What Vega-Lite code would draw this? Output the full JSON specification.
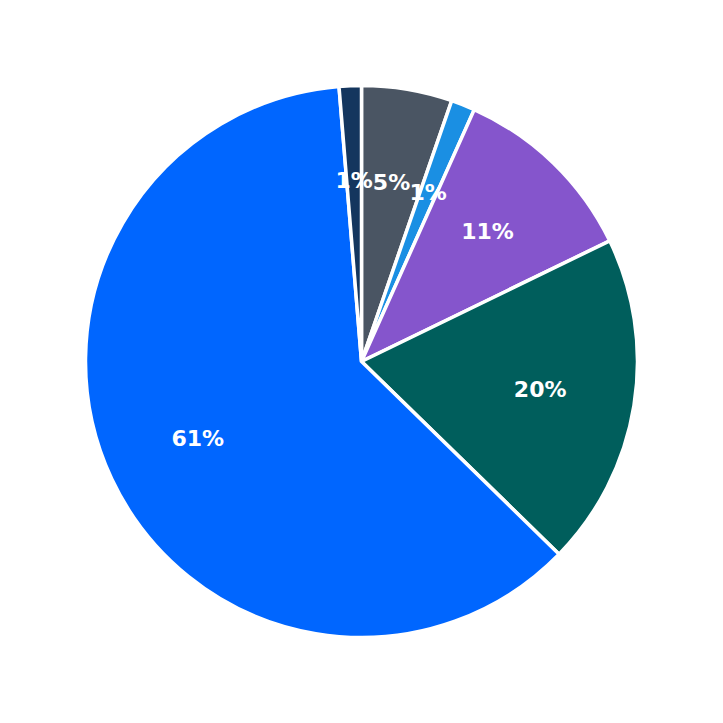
{
  "$schema": "https://vega.github.io/schema/vega-lite/v6.json",
  "width": 723,
  "height": 723,
  "autosize": {"type": "fit", "contains": "padding"},
  "padding": 0,
  "background": "white",
  "data": {
    "values": [
      {"idx": 1, "cat": "A", "share": 0.053},
      {"idx": 2, "cat": "B", "share": 0.014},
      {"idx": 3, "cat": "C", "share": 0.111},
      {"idx": 4, "cat": "D", "share": 0.195},
      {"idx": 5, "cat": "E", "share": 0.614},
      {"idx": 6, "cat": "F", "share": 0.013}
    ]
  },
  "encoding": {
    "theta": {"field": "share", "type": "quantitative", "stack": true},
    "order": {"field": "idx", "type": "quantitative"},
    "color": {
      "field": "cat",
      "type": "nominal",
      "legend": null,
      "scale": {
        "domain": ["A", "B", "C", "D", "E", "F"],
        "range": ["#4a5563", "#1a8fe3", "#8555cc", "#005e5c", "#0066ff", "#14365e"]
      }
    }
  },
  "layer": [
    {
      "mark": {"type": "arc", "outerRadius": 276, "stroke": "white", "strokeWidth": 3.5}
    },
    {
      "mark": {
        "type": "text",
        "radius": 181,
        "fontSize": 22,
        "fontWeight": "bold",
        "font": "DejaVu Sans",
        "fill": "white"
      },
      "encoding": {
        "text": {"field": "share", "type": "quantitative", "format": ".0%"},
        "color": {"value": "white"}
      }
    }
  ],
  "config": {"view": {"stroke": null}}
}
